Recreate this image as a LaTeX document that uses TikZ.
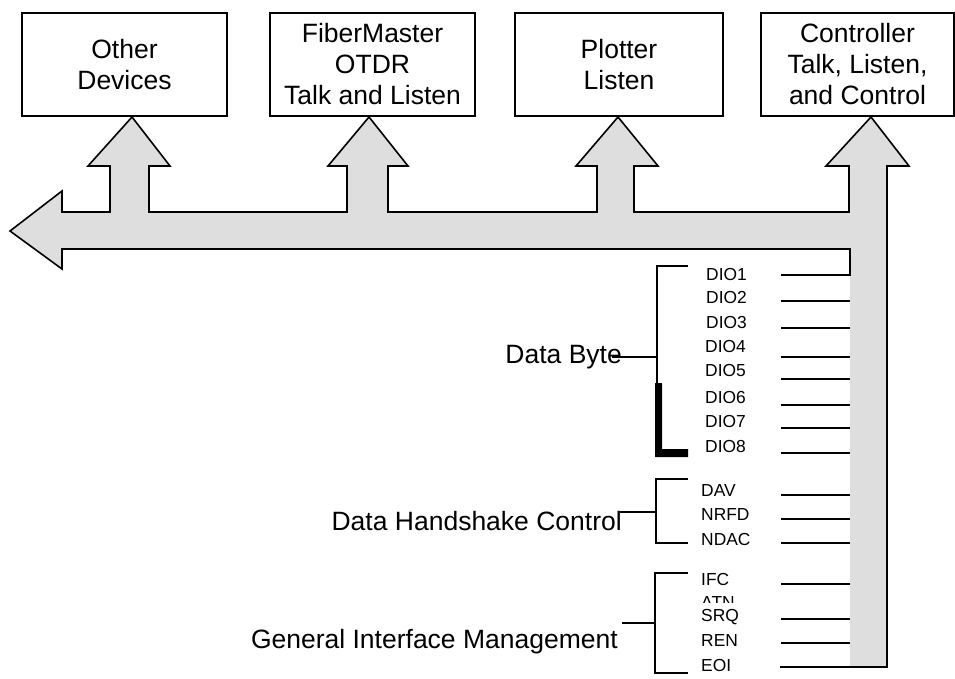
\documentclass[tikz,border=0pt]{standalone}
\usepackage{fontspec}
\setmainfont{Liberation Sans}
\begin{document}
\begin{tikzpicture}[x=1pt,y=-1pt,
  box/.style={draw, line width=1.5pt, inner sep=0pt, align=center, font=\fontsize{26.5}{31}\selectfont},
  sig/.style={anchor=west, inner sep=0pt, font=\fontsize{17.4}{20}\selectfont},
  grp/.style={anchor=base east, inner sep=0pt, font=\fontsize{26.5}{31}\selectfont},
  wire/.style={line width=1.6pt},
  busfill/.style={fill=black!13}]
\useasboundingbox (0,0) rectangle (955,678);

% device boxes
\node[box, minimum width=205pt, minimum height=103pt] (other) at (124.5,64.5) {Other\\Devices};
\node[box, minimum width=205pt, minimum height=103pt] (otdr) at (372.5,64.5) {FiberMaster\\OTDR\\Talk and Listen};
\node[box, minimum width=208pt, minimum height=103pt] (plot) at (619,64.5) {Plotter\\Listen};
\node[box, minimum width=193pt, minimum height=103pt] (ctrl) at (857.5,64.5) {Controller\\Talk, Listen,\\and Control};

% bus fill
\path[busfill] (10,231) -- (62,191) -- (62,212) -- (110,212) -- (110,166) -- (88,166) -- (132,117)
  -- (170,166) -- (149,166) -- (149,212) -- (347,212) -- (347,166) -- (328,166) -- (369,117)
  -- (408,166) -- (388,166) -- (388,212) -- (597,212) -- (597,166) -- (576,166) -- (618,117)
  -- (658,166) -- (634,166) -- (634,212) -- (849,212) -- (849,166) -- (826,166) -- (871,117)
  -- (909,166) -- (887,166) -- (887,667) -- (850,667) -- (850,249) -- (62,249) -- (62,269) -- cycle;

% bus outline (ends in DIO1 and EOI lines)
\coordinate (dio1w) at (781,275);
\coordinate (eoiw) at (780,667);
\draw[wire, line join=miter] (dio1w) -- (850,275) -- (850,249) -- (62,249) -- (62,269) -- (10,231) -- (62,191)
  -- (62,212) -- (110,212) -- (110,166) -- (88,166) -- (132,117)
  -- (170,166) -- (149,166) -- (149,212) -- (347,212) -- (347,166) -- (328,166) -- (369,117)
  -- (408,166) -- (388,166) -- (388,212) -- (597,212) -- (597,166) -- (576,166) -- (618,117)
  -- (658,166) -- (634,166) -- (634,212) -- (849,212) -- (849,166) -- (826,166) -- (871,117)
  -- (909,166) -- (887,166) -- (887,667) -- (eoiw);

% signal labels
\node[sig] (d1) at (706,275) {DIO1};
\node[sig] (d2) at (706,298) {DIO2};
\node[sig] (d3) at (706,323) {DIO3};
\node[sig] (d4) at (705,347) {DIO4};
\node[sig] (d5) at (705,371) {DIO5};
\node[sig] (d6) at (705,398) {DIO6};
\node[sig] (d7) at (705,422) {DIO7};
\node[sig] (d8) at (705,447) {DIO8};
\node[sig] (dav) at (701,491) {DAV};
\node[sig] (nrfd) at (701,515) {NRFD};
\node[sig] (ndac) at (701,539) {NDAC};
\node[sig] (ifc) at (701,579) {IFC};
\begin{scope}
\clip (690,590) rectangle (780,602.5);
\node[sig] (atn) at (701,603) {ATN};
\end{scope}
\node[sig] (srq) at (701,617.5) {SRQ};
\node[sig] (ren) at (701,641) {REN};
\node[sig] (eoi) at (701,665) {EOI};

% signal lines
\foreach \yy in {301,328,357,379,405,428,453,495,519,543,584,619,643}
  \draw[wire] (781,\yy) -- (850,\yy);

% group labels
\node[grp] (byte) at (622,363) {Data Byte};
\node[grp] (hand) at (622,530) {Data Handshake Control};
\node[grp] (gim) at (618,648) {General Interface Management};

% brackets
\draw[line width=1.4pt] (688,266) -- (657,266) -- (657,384);
\fill (655,383) -- (662,383) -- (662,449) -- (688,449) -- (688,457) -- (655,457) -- cycle;
\draw[line width=1.4pt] (612,357) -- (657,357);

\draw[line width=1.4pt] (688,479) -- (656,479) -- (656,543) -- (688,543);
\draw[line width=1.4pt] (620,512) -- (656,512);

\draw[line width=1.4pt] (688,573) -- (655,573) -- (655,673) -- (688,673);
\draw[line width=1.4pt] (622,623) -- (655,623);
\end{tikzpicture}
\end{document}
